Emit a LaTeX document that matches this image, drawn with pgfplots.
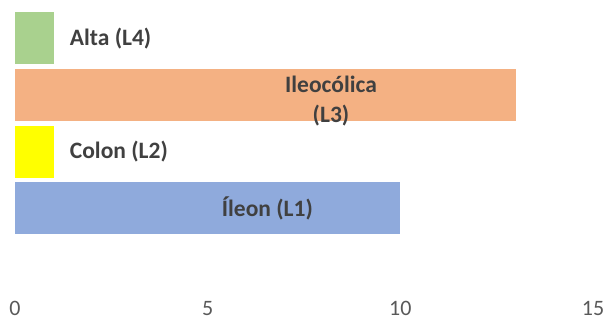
\documentclass[border=0pt]{standalone}
\usepackage{pgfplots}
\pgfplotsset{compat=1.18}
\usepackage{fontspec}
\setmainfont{Carlito}
\definecolor{cgreen}{HTML}{A9D18E}
\definecolor{corange}{HTML}{F4B183}
\definecolor{cyellow}{HTML}{FFFF00}
\definecolor{cblue}{HTML}{8FAADC}
\definecolor{labgray}{HTML}{404040}
\definecolor{tickgray}{HTML}{595959}
\begin{document}
\begin{tikzpicture}
\useasboundingbox (0,0) rectangle (608pt,321pt);
\begin{axis}[at={(15pt,27.5pt)}, anchor=south west, scale only axis,
  width=578pt, height=283.5pt,
  xmin=0, xmax=15, ymin=-0.5, ymax=4.5,
  axis line style={draw=none}, ytick=\empty, xtick={0,5,10,15},
  major tick length=0pt,
  /pgf/number format/assume math mode=true,
  tick label style={font=\fontsize{22}{26}\selectfont, text=tickgray},
  xticklabel style={yshift=-4.5pt},
  clip=false]
\addplot[xbar, bar width=52pt, bar shift=0pt, fill=cblue, draw=none] coordinates {(10,1)};
\addplot[xbar, bar width=52pt, bar shift=0pt, fill=cyellow, draw=none] coordinates {(1,2)};
\addplot[xbar, bar width=52pt, bar shift=0pt, fill=corange, draw=none] coordinates {(13,3)};
\addplot[xbar, bar width=52pt, bar shift=0pt, fill=cgreen, draw=none] coordinates {(1,4)};
\node[anchor=west, inner sep=0pt, font=\bfseries\fontsize{23.5}{28}\selectfont, text=labgray] at (axis cs:1.42,4) {Alta (L4)};
\node[anchor=west, inner sep=0pt, font=\bfseries\fontsize{23.5}{28}\selectfont, text=labgray] at (axis cs:1.42,2) {Colon (L2)};
\node[inner sep=0pt, font=\bfseries\fontsize{23.5}{28}\selectfont, text=labgray] at (axis cs:6.55,1) {Íleon (L1)};
\node[inner sep=0pt, align=center, font=\bfseries\fontsize{23.5}{30}\selectfont, text=labgray] at (axis cs:8.2,2.89) {Ileocólica\\(L3)};
\end{axis}
\end{tikzpicture}
\end{document}
